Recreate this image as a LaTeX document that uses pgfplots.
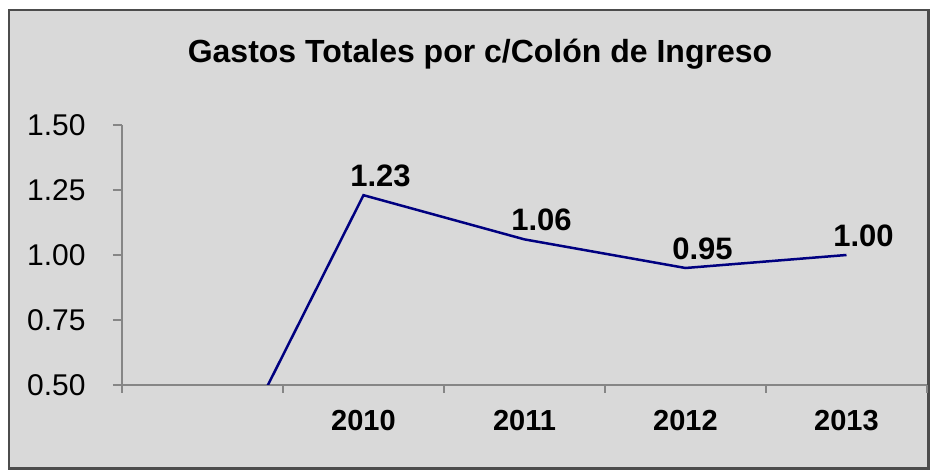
\documentclass[border=0pt]{standalone}
\usepackage{pgfplots}
\pgfplotsset{compat=1.18}
\usepackage{fontspec}
\setmainfont{Liberation Sans}

\definecolor{fondo}{HTML}{D9D9D9}
\definecolor{serie}{HTML}{000080}
\definecolor{ejes}{HTML}{868686}

\begin{document}
\begin{tikzpicture}[x=1pt,y=1pt]
\path[fill=white] (0,0) rectangle (930,470);
\draw[fill=fondo, draw=black!70, line width=2.5pt] (9,1.5) rectangle (928.5,460);
\node[font=\fontsize{32}{36}\selectfont\bfseries] at (480,416) {Gastos Totales por c/Colón de Ingreso};
\begin{axis}[
    at={(122pt,85pt)}, anchor=south west,
    scale only axis,
    width=805pt, height=260pt,
    xmin=-0.5, xmax=4.5,
    ymin=0.5, ymax=1.5,
    axis x line=bottom, axis y line=left,
    axis line style={-, draw=ejes, line width=1.5pt},
    xtick={0,1,2,3,4},
    xticklabels={,2010,2011,2012,2013},
    major x tick style={draw=none},
    minor xtick={-0.5,0.5,1.5,2.5,3.5,4.5},
    minor x tick style={draw=ejes, line width=1.2pt},
    minor tick length=8pt,
    ytick={0.5,0.75,1,1.25,1.5},
    y tick style={draw=ejes, line width=1.2pt},
    major tick length=9pt,
    tick align=outside,
    yticklabel style={font=\fontsize{30}{32}\selectfont, xshift=-24pt,
        /pgf/number format/.cd, fixed, zerofill, precision=2, assume math mode=true},
    xticklabel style={font=\fontsize{29}{31}\selectfont\bfseries, yshift=-13pt},
    point meta=explicit symbolic,
    nodes near coords,
    every node near coord/.append style={font=\fontsize{31}{33}\selectfont\bfseries,
        text=black, anchor=south, xshift=17pt, yshift=4pt},
]
\addplot[color=serie, line width=2.5pt, mark=none] table[meta=lab] {
x y lab
0 0.00 {}
1 1.23 1.23
2 1.06 1.06
3 0.95 0.95
4 1.00 1.00
};
\end{axis}
\end{tikzpicture}
\end{document}
